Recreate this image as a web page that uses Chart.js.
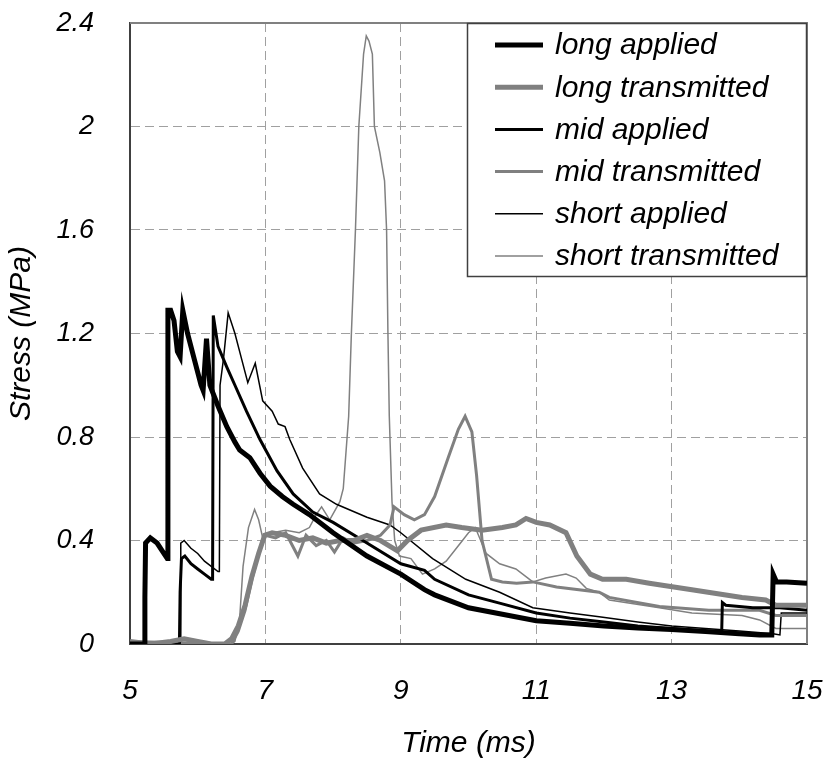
<!DOCTYPE html>
<html lang="en">
<head>
    <meta charset="UTF-8">
    <title>Stress vs Time</title>
    <script src="https://cdn.jsdelivr.net/npm/chart.js"></script>
    <style>
        body {
            margin: 0;
            background: #fff;
        }
        #wrap {
            width: 828px;
            height: 762px;
        }
    </style>
</head>
<body>
    <div id="wrap">
        <canvas id="stressChart" width="828" height="762"></canvas>
    </div>

    <script>
        // axis ticks
        const xTickValues = [5, 7, 9, 11, 13, 15];
        const yTickValues = [0, 0.4, 0.8, 1.2, 1.6, 2, 2.4];
        const yTickLabels = ['0', '0.4', '0.8', '1.2', '1.6', '2', '2.4'];

        const seriesNames = ['long applied', 'long transmitted', 'mid applied',
            'mid transmitted', 'short applied', 'short transmitted'];

        // long applied
        const longAppliedTime = [5.0, 5.21, 5.22, 5.23, 5.3, 5.4, 5.5, 5.55, 5.56, 5.6, 5.65, 5.7, 5.74, 5.78,
            5.85, 5.95, 6.05, 6.08, 6.13, 6.18, 6.3, 6.43, 6.55, 6.62, 6.77, 6.92, 7.07, 7.25, 7.41, 7.65,
            8.0, 8.5, 9.0, 9.35, 9.5, 10.0, 10.5, 11.0, 11.5, 12.0, 12.5, 13.0, 13.5, 14.0, 14.3, 14.48,
            14.5, 14.55, 14.7, 15.0];
        const longAppliedStress = [0, 0, 0.18, 0.39, 0.41, 0.39, 0.35, 0.33, 1.29, 1.29, 1.25, 1.13, 1.11, 1.29,
            1.2, 1.1, 1.0, 0.98, 1.18, 1.0, 0.92, 0.84, 0.78, 0.75, 0.72, 0.66, 0.61, 0.57, 0.54, 0.5,
            0.43, 0.34, 0.27, 0.21, 0.19, 0.14, 0.115, 0.09, 0.08, 0.07, 0.062, 0.056, 0.048, 0.04, 0.035, 0.035,
            0.27, 0.24, 0.24, 0.235];

        // long transmitted
        const longTransTime = [5.0, 5.3, 5.6, 5.8, 6.0, 6.2, 6.4, 6.5, 6.6, 6.7, 6.8, 6.9, 6.99, 7.1, 7.3,
            7.5, 7.7, 7.9, 8.1, 8.3, 8.5, 8.7, 8.95, 9.1, 9.3, 9.67, 9.9, 10.2, 10.5, 10.7, 10.85, 11.0,
            11.2, 11.44, 11.6, 11.8, 11.98, 12.33, 12.67, 13.3, 14.04, 14.39, 14.54, 15.0];
        const longTransStress = [0.01, 0.0, 0.01, 0.02, 0.01, 0.0, 0.0, 0.02, 0.07, 0.15, 0.26, 0.35, 0.42, 0.43, 0.42,
            0.4, 0.41, 0.39, 0.4, 0.4, 0.42, 0.4, 0.36, 0.4, 0.44, 0.46, 0.45, 0.44, 0.45, 0.46, 0.485, 0.47,
            0.46, 0.43, 0.34, 0.27, 0.25, 0.25, 0.235, 0.21, 0.18, 0.17, 0.15, 0.15];

        // mid applied
        const midAppliedTime = [5.0, 5.73, 5.74, 5.76, 5.81, 5.9, 6.0, 6.1, 6.2, 6.22, 6.23, 6.3, 6.43, 6.55,
            6.72, 6.92, 7.17, 7.41, 7.7, 8.0, 8.5, 9.0, 9.35, 9.5, 10.0, 10.5, 11.0, 11.5, 12.0, 12.5, 13.0,
            13.5, 13.74, 13.75, 13.8, 14.2, 14.6, 15.0];
        const midAppliedStress = [0, 0, 0.2, 0.33, 0.34, 0.31, 0.29, 0.27, 0.25, 0.25, 1.27, 1.15, 1.07, 1.0,
            0.9, 0.79, 0.67, 0.58, 0.51, 0.47, 0.39, 0.31, 0.285, 0.25, 0.19, 0.155, 0.12, 0.1, 0.085, 0.07, 0.06,
            0.05, 0.047, 0.16, 0.15, 0.14, 0.14, 0.13];

        // mid transmitted
        const midTransTime = [5.0, 6.5, 6.6, 6.7, 6.8, 6.9, 7.0, 7.15, 7.3, 7.48, 7.6, 7.75, 7.9, 8.02, 8.15,
            8.3, 8.5, 8.7, 8.84, 8.9, 9.05, 9.2, 9.35, 9.5, 9.7, 9.85, 9.95, 10.05, 10.12, 10.2, 10.34, 10.5,
            10.71, 10.95, 11.3, 11.93, 12.08, 12.82, 13.55, 14.3, 14.54, 15.0];
        const midTransStress = [0.01, 0.0, 0.05, 0.13, 0.25, 0.35, 0.42, 0.41, 0.43, 0.34, 0.42, 0.38, 0.4, 0.355, 0.41,
            0.39, 0.4, 0.42, 0.46, 0.53, 0.5, 0.48, 0.5, 0.57, 0.72, 0.83, 0.88, 0.82, 0.65, 0.4, 0.25, 0.24,
            0.235, 0.24, 0.22, 0.2, 0.18, 0.145, 0.13, 0.13, 0.11, 0.11];

        // short applied
        const shortAppliedTime = [5.0, 5.74, 5.75, 5.8, 5.9, 6.0, 6.1, 6.2, 6.3, 6.32, 6.33, 6.38, 6.45, 6.55,
            6.65, 6.74, 6.85, 6.96, 7.1, 7.19, 7.29, 7.36, 7.55, 7.8, 8.05, 8.5, 8.84, 9.0, 9.47, 9.96, 10.46,
            10.95, 11.5, 11.93, 12.5, 13.0, 13.5, 14.0, 14.5, 14.6, 14.62, 14.7, 15.0];
        const shortAppliedStress = [0, 0, 0.39, 0.4, 0.37, 0.35, 0.32, 0.3, 0.28, 0.28, 1.0, 1.1, 1.28, 1.2,
            1.1, 1.01, 1.085, 0.94, 0.9, 0.85, 0.84, 0.79, 0.68, 0.58, 0.54, 0.49, 0.46, 0.43, 0.33, 0.25, 0.2,
            0.14, 0.12, 0.105, 0.085, 0.07, 0.06, 0.05, 0.04, 0.035, 0.12, 0.12, 0.12];

        // short transmitted
        const shortTransTime = [5.0, 5.5, 6.0, 6.5, 6.55, 6.62, 6.67, 6.75, 6.84, 6.9, 6.96, 7.1, 7.3, 7.5, 7.65,
            7.75, 7.83, 7.95, 8.1, 8.15, 8.23, 8.27, 8.33, 8.38, 8.45, 8.49, 8.53, 8.58, 8.61, 8.69, 8.76, 8.79,
            8.81, 8.83, 8.87, 8.91, 8.98, 9.15, 9.32, 9.5, 9.67, 9.85, 10.0, 10.1, 10.26, 10.46, 10.7, 10.95,
            11.14, 11.44, 11.59, 11.74, 11.93, 12.08, 12.82, 13.3, 14.04, 14.3, 14.54, 15.0];
        const shortTransStress = [0, 0, 0, 0, 0.01, 0.1, 0.3, 0.45, 0.52, 0.48, 0.41, 0.43, 0.44, 0.43, 0.45,
            0.5, 0.53, 0.48, 0.55, 0.6, 0.88, 1.2, 1.6, 2.0, 2.28, 2.35, 2.33, 2.28, 2.0, 1.9, 1.79, 1.6,
            1.2, 0.88, 0.55, 0.4, 0.34, 0.33, 0.27, 0.29, 0.32, 0.38, 0.43, 0.45, 0.35, 0.31, 0.29, 0.24,
            0.255, 0.27, 0.255, 0.215, 0.2, 0.17, 0.14, 0.12, 0.11, 0.093, 0.06, 0.06];

        const FONT = 'Liberation Sans, Arial, sans-serif';

        function toPoints(ts, vs) {
            return ts.map((t, i) => ({ x: t, y: vs[i] }));
        }

        function series(label, ts, vs, color, width) {
            return {
                label: label,
                data: toPoints(ts, vs),
                borderColor: color,
                backgroundColor: color,
                borderWidth: width,
                showLine: true,
                pointRadius: 0,
                tension: 0,
                fill: false
            };
        }

        // frame top/right solid grey
        const framePlugin = {
            id: 'frame',
            beforeDatasetsDraw(chart) {
                const a = chart.chartArea;
                const c = chart.ctx;
                c.save();
                c.strokeStyle = '#808080';
                c.lineWidth = 2;
                c.setLineDash([]);
                c.beginPath();
                c.moveTo(a.left, a.top);
                c.lineTo(a.right, a.top);
                c.lineTo(a.right, a.bottom);
                c.stroke();
                c.restore();
            }
        };

        // legend box sits inside the plot, top right corner
        const legendPlugin = {
            id: 'boxLegend',
            afterDatasetsDraw(chart) {
                const a = chart.chartArea;
                const c = chart.ctx;
                const x0 = a.right - 340, y0 = a.top, w = 340, h = 254;
                c.save();
                c.fillStyle = '#fff';
                c.fillRect(x0, y0, w, h);
                c.strokeStyle = '#404040';
                c.lineWidth = 1.5;
                c.strokeRect(x0 + 0.5, y0 + 0.5, w - 1, h - 1);
                c.font = 'italic 30px ' + FONT;
                c.textBaseline = 'middle';
                c.fillStyle = '#000';
                chart.data.datasets.forEach((ds, i) => {
                    const y = y0 + 22 + i * 42.2;
                    c.strokeStyle = ds.borderColor;
                    c.lineWidth = ds.borderWidth;
                    c.beginPath();
                    c.moveTo(x0 + 28, y);
                    c.lineTo(x0 + 76, y);
                    c.stroke();
                    c.fillText(ds.label, x0 + 88, y + 1);
                });
                c.restore();
            }
        };

        const ctx = document.getElementById('stressChart').getContext('2d');
        const chart = new Chart(ctx, {
            type: 'scatter',
            data: {
                datasets: [
                    series(seriesNames[0], longAppliedTime, longAppliedStress, '#000000', 5),
                    series(seriesNames[1], longTransTime, longTransStress, '#808080', 5),
                    series(seriesNames[2], midAppliedTime, midAppliedStress, '#000000', 3),
                    series(seriesNames[3], midTransTime, midTransStress, '#808080', 3),
                    series(seriesNames[4], shortAppliedTime, shortAppliedStress, '#000000', 1.5),
                    series(seriesNames[5], shortTransTime, shortTransStress, '#808080', 1.5)
                ]
            },
            options: {
                responsive: false,
                animation: false,
                layout: {
                    padding: { top: 23, right: 21, bottom: 0, left: 0 }
                },
                plugins: {
                    legend: { display: false },
                    tooltip: { enabled: false }
                },
                scales: {
                    x: {
                        type: 'linear',
                        min: 5,
                        max: 15,
                        afterBuildTicks: s => { s.ticks = xTickValues.map(v => ({ value: v })); },
                        afterFit: s => { s.height = 118; s.paddingLeft = 0; s.paddingRight = 0; },
                        grid: { color: '#a0a0a0', lineWidth: 1, drawTicks: false },
                        border: { color: '#404040', width: 2, dash: [9, 5] },
                        ticks: {
                            padding: 30,
                            color: '#000',
                            font: { family: FONT, size: 28, style: 'italic' },
                            maxRotation: 0
                        },
                        title: {
                            display: true,
                            text: 'Time (ms)',
                            color: '#000',
                            font: { family: FONT, size: 30, style: 'italic' },
                            padding: { top: 0, bottom: 0 }
                        }
                    },
                    y: {
                        type: 'linear',
                        min: 0,
                        max: 2.4,
                        afterBuildTicks: s => { s.ticks = yTickValues.map(v => ({ value: v })); },
                        afterFit: s => { s.width = 130; s.paddingTop = 0; s.paddingBottom = 0; },
                        grid: { color: '#a0a0a0', lineWidth: 1, drawTicks: false },
                        border: { color: '#404040', width: 2, dash: [9, 5] },
                        ticks: {
                            padding: 36,
                            color: '#000',
                            font: { family: FONT, size: 27, style: 'italic' },
                            callback: (v, i) => yTickLabels[i]
                        },
                        title: {
                            display: true,
                            text: 'Stress (MPa)',
                            color: '#000',
                            font: { family: FONT, size: 30, style: 'italic' },
                            padding: { top: 4, bottom: 0 }
                        }
                    }
                }
            },
            plugins: [framePlugin, legendPlugin]
        });
    </script>
</body>
</html>
